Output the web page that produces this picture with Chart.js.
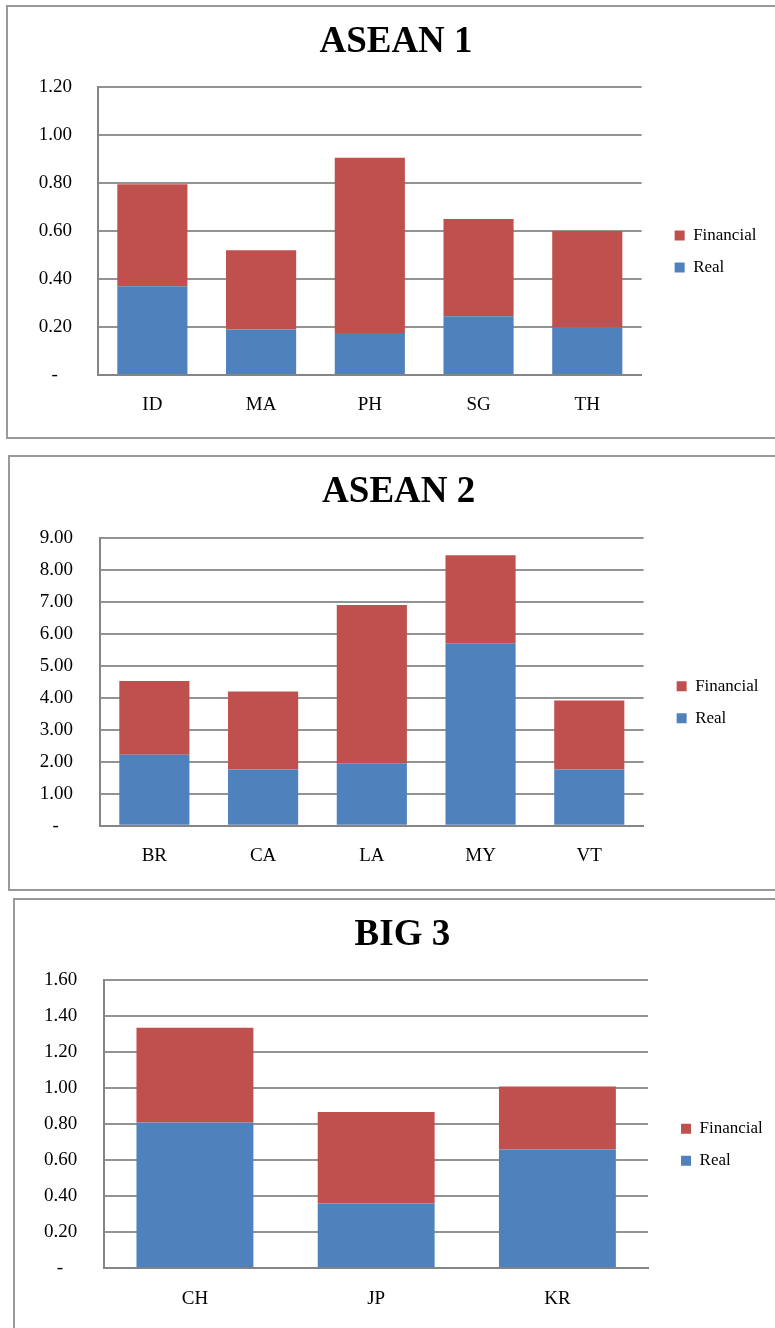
<!DOCTYPE html>
<html>
<head>
<meta charset="utf-8">
<script src="https://cdn.jsdelivr.net/npm/chart.js@4.4.1/dist/chart.umd.min.js"></script>
<style>
  html, body { margin: 0; padding: 0; background: #fff; overflow: hidden; }
  body { width: 775px; height: 1328px; position: relative; }
  .frame { position: absolute; box-sizing: border-box; border: 2px solid #999; border-right: none; }
  canvas { position: absolute; }
</style>
</head>
<body>
<div class="frame" style="left:6px; top:5px; width:800px; height:434px;"></div>
<div class="frame" style="left:8px; top:455px; width:800px; height:436px;"></div>
<div class="frame" style="left:13px; top:898px; width:800px; height:500px; border-bottom:none;"></div>

<canvas id="c1" width="767" height="429" style="left:8px; top:8px;"></canvas>
<canvas id="c2" width="765" height="430" style="left:10px; top:458px;"></canvas>
<canvas id="c3" width="760" height="428" style="left:15px; top:900px;"></canvas>

<script>
// ASEAN 1
const asean1Countries = ['ID', 'MA', 'PH', 'SG', 'TH'];
const asean1Real      = [0.37, 0.19, 0.175, 0.245, 0.20];
const asean1Financial = [0.425, 0.33, 0.73, 0.405, 0.40];

// ASEAN 2
const asean2Countries = ['BR', 'CA', 'LA', 'MY', 'VT'];
const asean2Real      = [2.22, 1.76, 1.95, 5.70, 1.76];
const asean2Financial = [2.30, 2.43, 4.95, 2.75, 2.15];

// BIG 3
const big3Countries = ['CH', 'JP', 'KR'];
const big3Real      = [0.81, 0.36, 0.66];
const big3Financial = [0.527, 0.508, 0.35];

const seriesNames = ['Real', 'Financial'];
const seriesColors = ['#4F81BD', '#C0504D'];

Chart.defaults.font.family = "'Liberation Serif', 'Times New Roman', serif";
Chart.defaults.color = '#000';

// Places the title over the whole frame and moves the legend block
// away from the plot area.
const blockPlacement = {
  id: 'blockPlacement',
  afterLayout(chart, args, opts) {
    const t = chart.titleBlock;
    if (t) {
      const w = t.right - t.left;
      t.left = opts.titleCx - w / 2;
      t.right = opts.titleCx + w / 2;
    }
    const lg = chart.legend;
    if (lg) {
      lg.left += opts.dx; lg.right += opts.dx;
      lg.top += opts.dy; lg.bottom += opts.dy;
    }
  }
};

function zeroDash(value) {
  return value === 0 ? '-   ' : Number(value).toFixed(2);
}

function panel(id, title, cats, real, fin, yMax, step, g) {
  new Chart(document.getElementById(id), {
    type: 'bar',
    data: {
      labels: cats,
      datasets: [
        { label: seriesNames[0], data: real, backgroundColor: seriesColors[0], borderWidth: 0 },
        { label: seriesNames[1], data: fin, backgroundColor: seriesColors[1], borderWidth: 0 }
      ]
    },
    options: {
      responsive: false,
      animation: false,
      events: [],
      barPercentage: 0.645,
      categoryPercentage: 1,
      layout: { padding: { left: 0, right: g.pr, top: 0, bottom: 0 } },
      plugins: {
        title: {
          display: true,
          text: title,
          font: { size: 37, weight: 'bold' },
          color: '#000',
          padding: { top: g.tTop, bottom: g.tBottom }
        },
        legend: {
          position: 'right',
          fullSize: false,
          reverse: true,
          labels: { boxWidth: 10, boxHeight: 10, padding: 15, font: { size: 17 }, color: '#000' }
        },
        blockPlacement: { titleCx: g.titleCx, dx: 18, dy: 20.5 },
        tooltip: { enabled: false }
      },
      scales: {
        x: {
          stacked: true,
          grid: { display: false, drawTicks: false },
          border: { display: true, color: '#858585', width: 2 },
          ticks: { font: { size: 19 }, color: '#000', padding: 19 },
          afterFit(s) { s.height = g.xH; }
        },
        y: {
          stacked: true,
          min: 0,
          max: yMax,
          grid: { color: '#939393', lineWidth: 2, drawTicks: false },
          border: { display: true, color: '#858585', width: 2 },
          ticks: { stepSize: step, font: { size: 19 }, color: '#000', padding: g.yPad, callback: zeroDash },
          afterFit(s) { s.width = g.yW; }
        }
      }
    },
    plugins: [blockPlacement]
  });
}

panel('c1', 'ASEAN 1', asean1Countries, asean1Real, asean1Financial, 1.2, 0.2,
  { pr: 26.6, yW: 90, xH: 62, tTop: 12.6, tBottom: 22, yPad: 26, titleCx: 388 });
panel('c2', 'ASEAN 2', asean2Countries, asean2Real, asean2Financial, 9, 1,
  { pr: 24.6, yW: 90, xH: 62.3, tTop: 12.6, tBottom: 22.7, yPad: 27, titleCx: 388.7 });
panel('c3', 'BIG 3', big3Countries, big3Real, big3Financial, 1.6, 0.2,
  { pr: 20.2, yW: 89.3, xH: 59.7, tTop: 13.6, tBottom: 22.3, yPad: 27, titleCx: 387.4 });
</script>
</body>
</html>
